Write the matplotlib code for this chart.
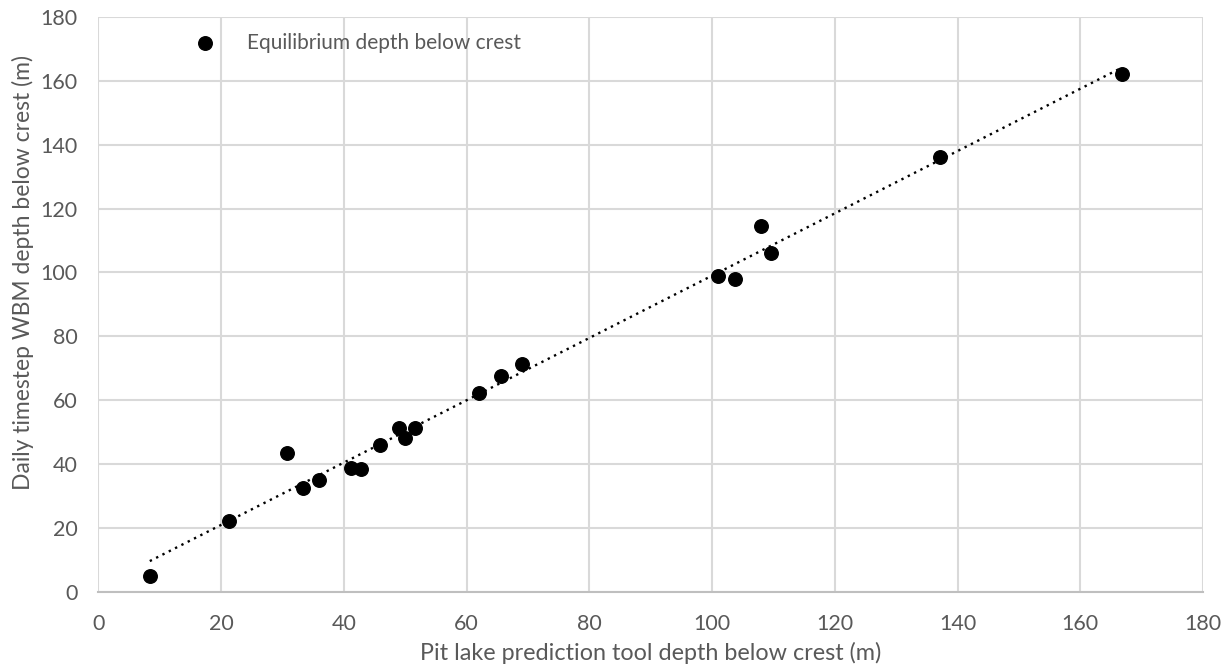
import numpy as np
import matplotlib
matplotlib.use("Agg")
import matplotlib.pyplot as plt

# pit lake tool depth vs daily WBM depth (m below crest)
tool_depth = [8.4, 21.3, 30.8, 33.3, 36.0, 41.1, 42.8, 45.9, 49.0, 49.9, 51.6,
              62.1, 65.7, 69.1, 101.0, 103.8, 107.9, 109.6, 137.1, 166.8]
wbm_depth = [5.0, 22.1, 43.5, 32.5, 35.1, 38.7, 38.4, 46.1, 51.3, 48.2, 51.3,
             62.2, 67.4, 71.3, 98.8, 98.0, 114.6, 106.0, 136.0, 162.3]

x_ticks = list(range(0, 181, 20))
y_ticks = list(range(0, 181, 20))

plt.rcParams['font.family'] = ['Lato', 'DejaVu Sans']
grey = '#595959'

fig = plt.figure(figsize=(12.31, 6.70), dpi=100)
ax = fig.add_axes([0.0798, 0.1169, 0.8975, 0.8577])

ax.scatter(tool_depth, wbm_depth, s=95, color='black', zorder=3,
           label='Equilibrium depth below crest')

# linear trendline, like excel does it
coef = np.polyfit(tool_depth, wbm_depth, 1)
xt = np.array([min(tool_depth), max(tool_depth)])
ax.plot(xt, np.polyval(coef, xt), color='black', lw=1.7,
        linestyle=(0, (1, 2)), zorder=2)

ax.set_xlim(0, 180)
ax.set_ylim(0, 180)
ax.set_xticks(x_ticks)
ax.set_yticks(y_ticks)
ax.grid(True, color='#d9d9d9', lw=1.5, zorder=0)
ax.set_axisbelow(True)
for side in ['top', 'right', 'left']:
    ax.spines[side].set_visible(False)
ax.spines['bottom'].set_color('#bfbfbf')
ax.spines['bottom'].set_linewidth(1.5)
ax.tick_params(length=0, labelsize=15.5, labelcolor=grey)
ax.tick_params(axis='x', pad=16)
ax.tick_params(axis='y', pad=15)

ax.set_xlabel('Pit lake prediction tool depth below crest (m)', fontsize=16.8,
              color=grey, labelpad=6)
ax.set_ylabel('Daily timestep WBM depth below crest (m)', fontsize=16.5,
              color=grey)
ax.yaxis.set_label_coords(-0.058, 0.555)

ax.legend(loc='upper left', bbox_to_anchor=(0.061, 1.005), frameon=False,
          fontsize=15, labelcolor=grey, handletextpad=1.0, scatterpoints=1)

fig.savefig('out.png', dpi=100)
